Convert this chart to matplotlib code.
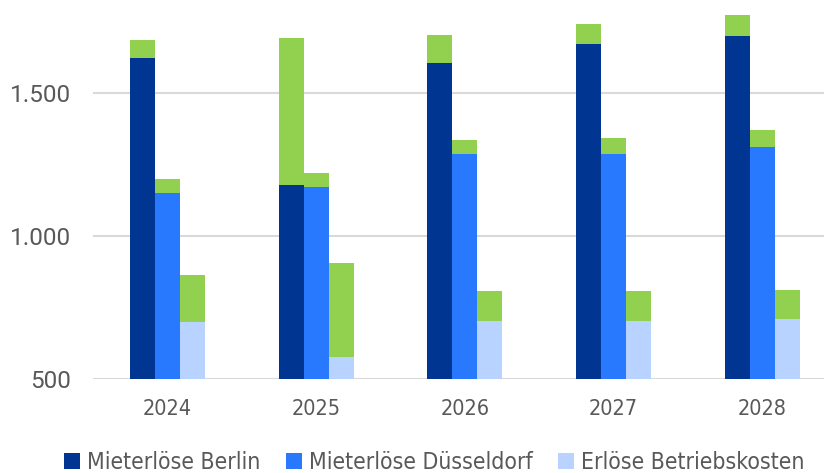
import numpy as np
import matplotlib.pyplot as plt
from matplotlib import font_manager

years = ['2024', '2025', '2026', '2027', '2028']

# base values (dark part of each bar)
berlin = [1622, 1180, 1607, 1672, 1700]
duesseldorf = [1152, 1172, 1287, 1287, 1313]
betriebskosten = [701, 577, 704, 704, 712]

# green top segment = total minus base
berlin_total = [1685, 1694, 1705, 1741, 1774]
duesseldorf_total = [1199, 1221, 1336, 1343, 1372]
betriebskosten_total = [864, 908, 807, 807, 812]

series_names = ['Mieterlöse Berlin', 'Mieterlöse Düsseldorf', 'Erlöse Betriebskosten']
colors = ['#003591', '#2979FF', '#B8D3FF']
green = '#92D050'

# condensed face for category labels and legend
narrow_file = font_manager.findfont(
    font_manager.FontProperties(family='DejaVu Sans', stretch='condensed'))

fig = plt.figure(figsize=(8.24, 4.73), dpi=100)
ax = fig.add_axes([93 / 824, 1 - 379.3 / 473, 1 - 93 / 824, 379.3 / 473])

x = np.arange(len(years))
w = 0.168
bases = [berlin, duesseldorf, betriebskosten]
totals = [berlin_total, duesseldorf_total, betriebskosten_total]
for i, (b, t) in enumerate(zip(bases, totals)):
    pos = x + (i - 1) * w
    b = np.array(b)
    t = np.array(t)
    ax.bar(pos, b - 500, width=w, bottom=500, color=colors[i],
           label=series_names[i], zorder=3)
    ax.bar(pos, t - b, width=w, bottom=b, color=green, zorder=3)

ax.set_ylim(500, 500 + 379.3 * 500 / 143)
ax.set_xlim(-0.5, -0.5 + (824 - 93) / 148.75)
ax.set_yticks([500, 1000, 1500])
ax.set_yticklabels(['500', '1.000', '1.500'], fontfamily='Roboto',
                   fontsize=17.5, color='#595959')
ax.set_xticks(x)
ax.set_xticklabels(years, fontproperties=font_manager.FontProperties(fname=narrow_file, size=15.5),
                   color='#595959')
ax.tick_params(axis='both', length=0)
ax.tick_params(axis='y', pad=16)
ax.tick_params(axis='x', pad=14)
ax.yaxis.grid(True, color='#D9D9D9', linewidth=1.5, zorder=0)
for s in ax.spines.values():
    s.set_visible(False)

leg = fig.legend(loc='center', bbox_to_anchor=(0.527, 0.023), ncol=3, frameon=False,
                 prop=font_manager.FontProperties(fname=narrow_file, size=16.5),
                 handlelength=0.7, handleheight=0.7, handletextpad=0.3, columnspacing=1.1)
for t in leg.get_texts():
    t.set_color('#595959')

fig.savefig('out.png', dpi=100)
